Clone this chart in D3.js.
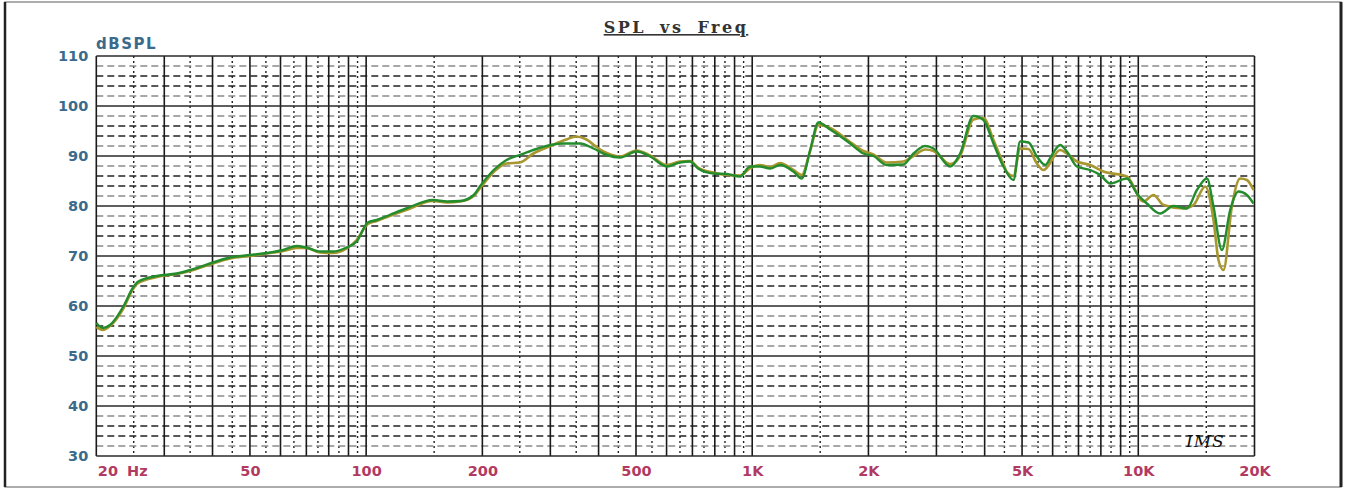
<!DOCTYPE html>
<html>
<head>
<meta charset="utf-8">
<script src="https://cdn.jsdelivr.net/npm/d3@7"></script>
<style>
  html, body { margin: 0; padding: 0; background: #fff; }
  svg { display: block; }
  .ylab text { font: bold 14.5px "DejaVu Sans", sans-serif; fill: #3b6b8c; }
  .xlab text { font: bold 14.5px "DejaVu Sans", sans-serif; fill: #b23a62; }
</style>
</head>
<body>
<div id="chart"></div>
<script>
const W = 1345, H = 489

// measured curves (Hz, dB SPL)
const greenFreq = [20, 20.8, 21.7, 23.5, 24.9, 25.7, 28.7, 32.3, 35, 39.4, 44.4, 50, 56.4, 61, 66, 70, 76, 82, 89, 94.5,
  101, 106.5, 115, 127, 149, 162, 175, 190, 197, 214, 231, 250, 271, 300, 324, 358, 388, 420, 455, 502, 544, 601, 650, 690,
  724, 793, 859, 930, 988, 1048, 1113, 1181, 1278, 1344, 1413, 1484, 1592, 1794, 1941, 2061, 2232, 2465, 2616, 2806, 2949,
  3256, 3456, 3741, 3972, 4216, 4474, 4750, 4943, 5196, 5462, 5741, 5974, 6276, 6531, 6934, 7508, 7969, 8458, 9343, 9915,
  10524, 11396, 12337, 13364, 14185, 15055, 15661, 16465, 17298, 18176, 19112, 19880]
const greenDb = [56.6, 55.6, 56.2, 59.9, 63.7, 64.9, 66.0, 66.5, 67.2, 68.5, 69.7, 70.2, 70.7, 71.2, 72.0, 71.7, 70.9, 70.9, 71.7, 72.9,
  76.7, 77.2, 78.2, 79.5, 81.2, 80.9, 81.0, 82.2, 83.9, 87.2, 89.2, 90.2, 91.2, 92.2, 92.5, 92.5, 91.5, 90.2, 89.7, 90.9, 89.9, 87.9, 88.7, 88.9,
  87.5, 86.5, 86.4, 85.9, 87.9, 87.9, 87.5, 88.2, 86.9, 85.5, 91.2, 96.7, 95.3, 92.5, 90.5, 90.0, 88.2, 88.3, 90.5, 92.0, 91.5,
  87.9, 90.5, 98.0, 97.2, 92.5, 87.9, 85.2, 92.9, 92.7, 89.9, 88.2, 90.2, 92.2, 90.9, 87.9, 87.2, 86.2, 84.5, 85.5, 82.5,
  80.5, 78.5, 80.0, 79.5, 83.2, 85.5, 79.9, 71.2, 79.2, 82.9, 82.2, 80.5]

const oliveFreq = [20, 20.8, 21.7, 23.5, 24.9, 25.7, 28.7, 32.3, 35, 39.4, 44.4, 50, 56.4, 61, 66, 70, 76, 82, 89, 94.5,
  101, 106.5, 115, 127, 149, 162, 175, 190, 197, 214, 231, 250, 271, 300, 330, 350, 370, 400, 420, 455, 502, 544, 601, 650, 690,
  724, 793, 859, 930, 988, 1048, 1113, 1181, 1278, 1344, 1413, 1484, 1592, 1794, 1941, 2061, 2232, 2465, 2616, 2806, 2949,
  3256, 3456, 3741, 3972, 4216, 4474, 4566, 4750, 4943, 5196, 5462, 5682, 6276, 6531, 6934, 7508, 8128, 9343, 10312, 10947,
  11621, 13096, 13900, 14904, 15661, 16134, 16624, 17475, 18360, 19112, 19880]
const oliveDb = [55.8, 55.2, 56.0, 59.5, 63.4, 64.6, 65.8, 66.4, 67.0, 68.3, 69.5, 70.0, 70.6, 71.0, 71.6, 71.6, 70.7, 70.6, 71.5, 73.2,
  76.4, 77.0, 78.0, 79.2, 81.0, 80.7, 80.9, 82.0, 83.5, 86.8, 88.5, 88.7, 90.5, 92.0, 93.3, 93.9, 93.4, 91.5, 90.6, 89.9, 91.1, 90.1, 88.2, 88.9, 89.0,
  87.7, 86.7, 86.2, 86.1, 87.6, 88.2, 87.8, 88.6, 87.2, 86.2, 91.0, 96.2, 95.6, 92.8, 91.0, 90.3, 88.7, 88.9, 90.0, 91.3, 91.0,
  88.4, 90.0, 97.3, 97.6, 93.2, 88.4, 86.8, 86.0, 91.5, 91.4, 88.5, 87.2, 91.2, 90.5, 88.9, 88.2, 86.9, 85.9, 80.9, 82.2,
  80.2, 79.5, 80.2, 83.9, 77.2, 69.2, 67.2, 79.9, 85.5, 85.2, 83.2]

const yTicks = [30, 40, 50, 60, 70, 80, 90, 100, 110]
const xTickVals = [20, 50, 100, 200, 500, 1000, 2000, 5000, 10000, 20000]
const xTickText = ["20 Hz", "50", "100", "200", "500", "1K", "2K", "5K", "10K", "20K"]

const x = d3.scaleLog().domain([20, 20000]).range([96.3, 1254.5])
const y = d3.scaleLinear().domain([30, 110]).range([456, 56])

const svg = d3.select("#chart").append("svg")
    .attr("width", W).attr("height", H)

//outer frame
svg.append("rect")
    .attr("x", 5).attr("y", 2).attr("width", 1336).attr("height", 485)
    .attr("fill", "#fff").attr("stroke", "#777").attr("stroke-width", 1.2)
svg.append("line").attr("x1", 5).attr("x2", 5).attr("y1", 2).attr("y2", 487)
    .attr("stroke", "#222").attr("stroke-width", 2.5)
svg.append("line").attr("x1", 1341).attr("x2", 1341).attr("y1", 2).attr("y2", 487)
    .attr("stroke", "#222").attr("stroke-width", 3)

const grid = svg.append("g")

//vertical grid: solid at k*10^n, dotted at (k+.5)*10^n
const solidX = [], dotX = []
for (let dec = 10; dec <= 10000; dec *= 10) {
    for (let k = 1; k <= 9; k++) {
        const f = k * dec
        if (f >= 20 && f <= 20000) solidX.push(f)
        const h = (k + 0.5) * dec
        if (h > 20 && h < 20000) dotX.push(h)
    }
}
grid.selectAll("line.vdot").data(dotX).enter().append("line")
    .attr("class", "vdot")
    .attr("x1", d => x(d)).attr("x2", d => x(d))
    .attr("y1", y(110)).attr("y2", y(30))
    .attr("stroke", "#222").attr("stroke-width", 1.4).attr("stroke-dasharray", "2,3")

//horizontal dashed every 2 dB
const dashY = d3.range(32, 110, 2).filter(v => v % 10 !== 0)
grid.selectAll("line.hdash").data(dashY).enter().append("line")
    .attr("class", "hdash")
    .attr("x1", x(20)).attr("x2", x(20000))
    .attr("y1", d => y(d)).attr("y2", d => y(d))
    .attr("stroke", d => (d % 10 === 2 || d % 10 === 8) ? "#8a8a8a" : "#222")
    .attr("stroke-width", 1.3).attr("stroke-dasharray", "7,4")

grid.selectAll("line.vsolid").data(solidX).enter().append("line")
    .attr("class", "vsolid")
    .attr("x1", d => x(d)).attr("x2", d => x(d))
    .attr("y1", y(110)).attr("y2", y(30))
    .attr("stroke", "#1a1a1a").attr("stroke-width", 1.6)

grid.selectAll("line.hsolid").data(yTicks).enter().append("line")
    .attr("class", "hsolid")
    .attr("x1", x(20)).attr("x2", x(20000))
    .attr("y1", d => y(d)).attr("y2", d => y(d))
    .attr("stroke", "#2a2a2a").attr("stroke-width", 1.4)

//axes
const yAxis = svg.append("g").attr("class", "ylab")
    .attr("transform", `translate(${x(20)},0)`)
    .call(d3.axisLeft(y).tickValues(yTicks).tickSize(0).tickPadding(8).tickFormat(d3.format("d")))
yAxis.select(".domain").remove()

const xAxis = svg.append("g").attr("class", "xlab")
    .attr("transform", `translate(0,${y(30)})`)
    .call(d3.axisBottom(x).tickValues(xTickVals).tickSize(0).tickPadding(6)
        .tickFormat((d, i) => xTickText[i]))
xAxis.select(".domain").remove()
xAxis.selectAll("text").attr("dy", "0.95em")
xAxis.selectAll(".tick").filter(d => d === 20).select("text")
    .attr("text-anchor", "start").attr("x", 1).style("word-spacing", "4px")

svg.append("text")
    .attr("x", 96).attr("y", 49)
    .style("font", "15px 'DejaVu Sans', sans-serif").style("letter-spacing", "1.5px")
    .style("font-weight", 600)
    .attr("fill", "#3b6b8c")
    .text("dBSPL")

//title
svg.append("text")
    .attr("x", 676).attr("y", 33).attr("text-anchor", "middle")
    .style("font", "bold 16px 'DejaVu Serif', serif")
    .style("letter-spacing", "2.5px").style("word-spacing", "6px")
    .style("text-decoration", "underline")
    .attr("fill", "#333")
    .text("SPL vs Freq")

//curves
const line = d3.line()
    .x(d => x(d[0])).y(d => y(d[1]))
    .curve(d3.curveMonotoneX)

svg.append("path")
    .datum(d3.zip(oliveFreq, oliveDb))
    .attr("fill", "none").attr("stroke", "#a8962e").attr("stroke-width", 2.6)
    .attr("d", line)

svg.append("path")
    .datum(d3.zip(greenFreq, greenDb))
    .attr("fill", "none").attr("stroke", "#238c2c").attr("stroke-width", 2.4)
    .attr("d", line)

//signature
svg.append("text")
    .attr("x", 1186).attr("y", 447)
    .style("font", "italic 17px 'DejaVu Serif', serif").style("letter-spacing", "1px")
    .attr("fill", "#111")
    .text("IMS")
</script>
</body>
</html>
